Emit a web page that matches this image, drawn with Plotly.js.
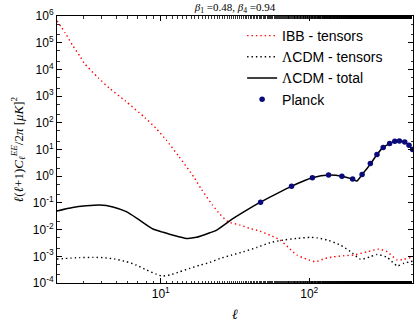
<!DOCTYPE html>
<html>
<head>
<meta charset="utf-8">
<script src="https://cdn.plot.ly/plotly-3.0.1.min.js"></script>
<style>
    html, body { margin: 0; padding: 0; background: #fff; }
    #chart { width: 415px; height: 325px; }
</style>
</head>
<body>
<div id="chart"></div>
<script>
// IBB - tensors (red dotted)
const ibbEll = [2, 2.27, 2.55, 2.88, 3.03, 3.8, 4.52, 5.77, 7.83, 9.29, 10.9, 13.2, 16.7, 18.8, 22.3, 25.1, 28.5, 34.2, 39.9, 46.6, 54.5, 63.6, 72.4, 82.6, 96.4, 110, 128, 146, 171, 199, 246, 294, 335, 392, 434, 481, 500];
const ibbCl = [6.6e5, 2.34e5, 7.9e4, 2.9e4, 1.78e4, 4.8e3, 1.95e3, 661, 155, 61.7, 22.4, 5.62, 0.933, 0.324, 0.0832, 0.0372, 0.0195, 0.0148, 0.0111, 0.0087, 0.00617, 0.00407, 0.00214, 0.00112, 0.000776, 0.000631, 0.000832, 0.000955, 0.00105, 0.00112, 0.00148, 0.00186, 0.00148, 0.000724, 0.000776, 0.000891, 0.000933];

// LCDM - tensors (black dotted)
const tensEll = [2, 2.84, 3.49, 4.07, 4.89, 5.86, 6.85, 8.0, 9.35, 10.1, 11.5, 13.4, 15.7, 18.4, 21.4, 25.1, 30.1, 36, 44.3, 54.5, 67, 82.6, 102, 113, 132, 162, 195, 221, 257, 286, 335, 392, 434, 481, 500];
const tensCl = [7.94e-4, 8.91e-4, 9.12e-4, 8.91e-4, 7.94e-4, 6.31e-4, 4.68e-4, 3.09e-4, 2.14e-4, 1.82e-4, 2.0e-4, 2.63e-4, 3.55e-4, 4.68e-4, 5.89e-4, 8.32e-4, 1.12e-3, 1.48e-3, 2.14e-3, 3.24e-3, 4.07e-3, 4.68e-3, 5.13e-3, 4.9e-3, 4.07e-3, 2.63e-3, 1.35e-3, 7.76e-4, 9.55e-4, 1.17e-3, 9.12e-4, 4.37e-4, 5.5e-4, 6.31e-4, 6.6e-4];

// LCDM - total (black solid)
const totEll = [2, 2.55, 3.15, 3.87, 4.76, 5.86, 7.2, 8.87, 10.4, 12.1, 14.9, 17.4, 21.4, 23.8, 30.8, 37.9, 46.6, 60.5, 76.4, 91.6, 105, 135, 166, 196, 209, 227, 245, 258, 286, 314, 347, 377, 405, 437, 470, 500];
const totCl = [0.0501, 0.0676, 0.0776, 0.0832, 0.0708, 0.0468, 0.0226, 0.0105, 0.00794, 0.00617, 0.00468, 0.00513, 0.00759, 0.00955, 0.0263, 0.0537, 0.105, 0.224, 0.427, 0.661, 0.871, 1.10, 1.0, 0.776, 0.661, 1.15, 1.95, 2.82, 6.46, 11.7, 16.6, 20.4, 21.4, 19.1, 14.5, 9.3];

// Planck points
const planckEll = [47, 76, 105, 135, 166, 196, 227, 258, 286, 315, 348, 377, 405, 440, 470, 497];
const planckCl = [0.105, 0.42, 0.87, 1.1, 1.0, 0.78, 1.15, 2.96, 6.5, 11.8, 16.6, 20.4, 21, 19, 14.4, 10];
const planckErr = [0.02, 0.04, 0.06, 0.07, 0.07, 0.07, 0.09, 0.2, 0.4, 0.7, 1.0, 1.2, 1.3, 1.3, 1.2, 1.1];

// tick labels
const xTickVals = [10, 100];
const xTickText = ['10<sup>1</sup>', '10<sup>2</sup>'];
const yTickVals = [1e-4, 1e-3, 1e-2, 1e-1, 1, 10, 1e2, 1e3, 1e4, 1e5, 1e6];
const yTickText = ['10<sup>-4</sup>', '10<sup>-3</sup>', '10<sup>-2</sup>', '10<sup>-1</sup>', '10<sup>0</sup>',
    '10<sup>1</sup>', '10<sup>2</sup>', '10<sup>3</sup>', '10<sup>4</sup>', '10<sup>5</sup>', '10<sup>6</sup>'];

const legendNames = ['IBB - tensors', 'ΛCDM - tensors', 'ΛCDM - total', 'Planck'];

const sans = 'Liberation Sans, Arial, sans-serif';
const serif = 'Liberation Serif, DejaVu Serif, serif';
const lambda = '<span style="font-family:Liberation Serif">Λ</span>';

function buildTraces() {
    const ibb = {
        x: ibbEll, y: ibbCl, type: 'scatter', mode: 'lines',
        name: legendNames[0],
        line: { color: '#ff0000', width: 1.4, dash: '1.4px,3px', shape: 'spline', smoothing: 0.6 }
    };
    const tensors = {
        x: tensEll, y: tensCl, type: 'scatter', mode: 'lines',
        name: legendNames[1].replace('Λ', lambda),
        line: { color: '#000000', width: 1.4, dash: '1.4px,3px', shape: 'spline', smoothing: 0.6 }
    };
    const total = {
        x: totEll, y: totCl, type: 'scatter', mode: 'lines',
        name: legendNames[2].replace('Λ', lambda),
        line: { color: '#000000', width: 1.5, shape: 'spline', smoothing: 0.6 }
    };
    const planck = {
        x: planckEll, y: planckCl, type: 'scatter', mode: 'markers',
        name: legendNames[3],
        marker: { color: '#0a0a7a', size: 5.5 },
        error_y: { type: 'data', array: planckErr, color: '#0a0a7a', thickness: 1.2, width: 0 }
    };
    return [ibb, tensors, total, planck];
}

function axisBase() {
    return {
        type: 'log',
        showline: true, linecolor: '#000', linewidth: 1, mirror: 'ticks',
        ticks: 'inside', ticklen: 5, tickcolor: '#000', tickwidth: 1,
        minor: { ticks: 'inside', ticklen: 2.5, tickcolor: '#000', tickwidth: 0.8 },
        showgrid: false, zeroline: false,
        tickmode: 'array',
        tickfont: { family: sans, size: 12, color: '#000' }
    };
}

function renderChart() {
    const xaxis = Object.assign(axisBase(), {
        range: [Math.log10(2), Math.log10(500)],
        tickvals: xTickVals, ticktext: xTickText,
        title: { text: '<i>ℓ</i>', font: { family: serif, size: 14, color: '#000' }, standoff: 8 }
    });
    const yaxis = Object.assign(axisBase(), {
        range: [-4, 6],
        tickvals: yTickVals, ticktext: yTickText,
        title: {
            text: '<i>ℓ</i>(<i>ℓ</i>+1)<i>C</i><sub><i>ℓ</i></sub><sup><i>EE</i></sup>/2<i>π</i> [<i>μK</i>]<sup>2</sup>',
            font: { family: serif, size: 13, color: '#000' }, standoff: 6
        }
    });

    const layout = {
        width: 415, height: 325,
        margin: { l: 57, r: 2, t: 15.5, b: 42 },
        paper_bgcolor: '#fff', plot_bgcolor: '#fff',
        title: {
            text: '<i>β</i><sub>1</sub> =0.48, <i>β</i><sub>4</sub> =0.94',
            font: { family: serif, size: 11, color: '#000' },
            x: 0.5, xref: 'paper', y: 0.978, yanchor: 'middle'
        },
        xaxis: xaxis,
        yaxis: yaxis,
        showlegend: true,
        legend: {
            x: 0.52, y: 0.985, xanchor: 'left', yanchor: 'top',
            bgcolor: 'rgba(0,0,0,0)', borderwidth: 0,
            font: { family: sans, size: 14, color: '#000' },
            itemwidth: 30
        }
    };

    Plotly.newPlot('chart', buildTraces(), layout, { displayModeBar: false, staticPlot: true });
}

document.addEventListener('DOMContentLoaded', renderChart);
</script>
</body>
</html>
